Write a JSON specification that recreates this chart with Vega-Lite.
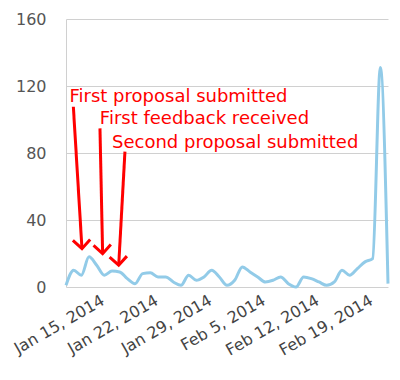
{
  "$schema": "https://vega.github.io/schema/vega-lite/v6.json",
  "width": 322,
  "height": 268,
  "autosize": {"type": "none"},
  "padding": {"left": 66, "top": 19, "right": 12, "bottom": 93},
  "config": {
    "view": {"stroke": null},
    "font": "DejaVu Sans",
    "axis": {"labelFont": "DejaVu Sans", "labelFontSize": 16, "title": null}
  },
  "datasets": {
    "series": [
      {"date": "2014-01-11T00:00:00", "count": 1},
      {"date": "2014-01-12T00:00:00", "count": 10},
      {"date": "2014-01-13T00:00:00", "count": 7},
      {"date": "2014-01-14T00:00:00", "count": 18},
      {"date": "2014-01-15T00:00:00", "count": 13},
      {"date": "2014-01-16T00:00:00", "count": 7},
      {"date": "2014-01-17T00:00:00", "count": 9.5},
      {"date": "2014-01-18T00:00:00", "count": 9},
      {"date": "2014-01-19T00:00:00", "count": 5},
      {"date": "2014-01-20T00:00:00", "count": 2},
      {"date": "2014-01-21T00:00:00", "count": 8},
      {"date": "2014-01-22T00:00:00", "count": 8.5},
      {"date": "2014-01-23T00:00:00", "count": 6},
      {"date": "2014-01-24T00:00:00", "count": 6},
      {"date": "2014-01-25T00:00:00", "count": 3},
      {"date": "2014-01-26T00:00:00", "count": 1},
      {"date": "2014-01-27T00:00:00", "count": 7},
      {"date": "2014-01-28T00:00:00", "count": 4},
      {"date": "2014-01-29T00:00:00", "count": 6},
      {"date": "2014-01-30T00:00:00", "count": 10},
      {"date": "2014-01-31T00:00:00", "count": 6},
      {"date": "2014-02-01T00:00:00", "count": 1},
      {"date": "2014-02-02T00:00:00", "count": 4},
      {"date": "2014-02-03T00:00:00", "count": 12},
      {"date": "2014-02-04T00:00:00", "count": 9},
      {"date": "2014-02-05T00:00:00", "count": 6},
      {"date": "2014-02-06T00:00:00", "count": 3},
      {"date": "2014-02-07T00:00:00", "count": 4},
      {"date": "2014-02-08T00:00:00", "count": 6},
      {"date": "2014-02-09T00:00:00", "count": 2},
      {"date": "2014-02-10T00:00:00", "count": 0},
      {"date": "2014-02-11T00:00:00", "count": 6},
      {"date": "2014-02-12T00:00:00", "count": 5},
      {"date": "2014-02-13T00:00:00", "count": 3},
      {"date": "2014-02-14T00:00:00", "count": 1},
      {"date": "2014-02-15T00:00:00", "count": 3},
      {"date": "2014-02-16T00:00:00", "count": 10},
      {"date": "2014-02-17T00:00:00", "count": 7},
      {"date": "2014-02-18T00:00:00", "count": 11},
      {"date": "2014-02-19T00:00:00", "count": 15},
      {"date": "2014-02-20T00:00:00", "count": 17},
      {"date": "2014-02-21T00:00:00", "count": 131},
      {"date": "2014-02-22T00:00:00", "count": 2}
    ],
    "notes": [
      {"label": "First proposal submitted", "date": "2014-01-11T11:00:00", "value": 110.6},
      {"label": "First feedback received", "date": "2014-01-15T10:00:00", "value": 97.3},
      {"label": "Second proposal submitted", "date": "2014-01-17T00:00:00", "value": 83.2}
    ],
    "arrows": [
      {"from": "2014-01-11T23:00:00", "top": 107.6, "to": "2014-01-13T02:00:00", "tip": 22.9},
      {"from": "2014-01-15T10:20:00", "top": 94.7, "to": "2014-01-15T18:40:00", "tip": 19.9},
      {"from": "2014-01-18T16:30:00", "top": 80.8, "to": "2014-01-17T21:00:00", "tip": 13.0}
    ]
  },
  "layer": [
    {
      "data": {"name": "series"},
      "mark": {"type": "line", "interpolate": "monotone", "color": "#92cbe8", "strokeWidth": 3},
      "encoding": {
        "x": {
          "field": "date", "type": "temporal",
          "scale": {"domain": [{"year": 2014, "month": "jan", "date": 11}, {"year": 2014, "month": "feb", "date": 22}], "nice": false},
          "axis": {
            "values": [
              {"year": 2014, "month": "jan", "date": 15},
              {"year": 2014, "month": "jan", "date": 22},
              {"year": 2014, "month": "jan", "date": 29},
              {"year": 2014, "month": "feb", "date": 5},
              {"year": 2014, "month": "feb", "date": 12},
              {"year": 2014, "month": "feb", "date": 19}
            ],
            "format": "%b %-d, %Y",
            "labelAngle": -30,
            "labelAlign": "right",
            "labelBaseline": "top",
            "labelOffset": 2,
            "labelPadding": 5,
            "labelOverlap": false,
            "labelColor": "#444444",
            "ticks": false,
            "grid": false,
            "domain": false
          }
        },
        "y": {
          "field": "count", "type": "quantitative",
          "scale": {"domain": [0, 160], "nice": false},
          "axis": {
            "values": [0, 40, 80, 120, 160],
            "ticks": false,
            "labelPadding": 20,
            "labelColor": "#555555",
            "gridColor": "#d0d0d0",
            "domainColor": "#d0d0d0"
          }
        }
      }
    },
    {
      "data": {"name": "arrows"},
      "mark": {"type": "rule", "color": "#ff0000", "strokeWidth": 3},
      "encoding": {
        "x": {"field": "from", "type": "temporal"},
        "y": {"field": "top", "type": "quantitative"},
        "x2": {"field": "to"},
        "y2": {"field": "tip"}
      }
    },
    {
      "data": {"name": "arrows"},
      "mark": {"type": "point", "shape": "M-1,-1L0,0L1,-1", "filled": false, "stroke": "#ff0000", "strokeWidth": 3, "size": 300, "opacity": 1, "angle": -3},
      "encoding": {
        "x": {"field": "to", "type": "temporal"},
        "y": {"field": "tip", "type": "quantitative"}
      }
    },
    {
      "data": {"name": "notes"},
      "mark": {"type": "text", "color": "#ff0000", "fontSize": 18, "font": "DejaVu Sans", "align": "left", "baseline": "alphabetic"},
      "encoding": {
        "x": {"field": "date", "type": "temporal"},
        "y": {"field": "value", "type": "quantitative"},
        "text": {"field": "label"}
      }
    }
  ]
}
